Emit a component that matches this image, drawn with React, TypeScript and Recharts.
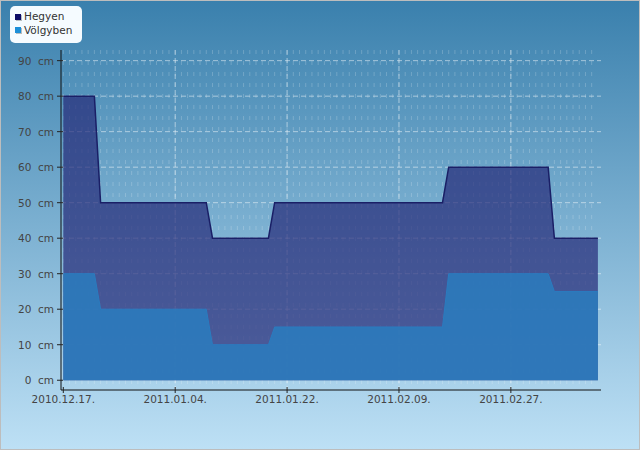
import {
  AreaChart,
  Area,
  XAxis,
  YAxis,
  CartesianGrid,
} from "recharts";

// change points of the snow depth series (cm)
const dates = [
  "2010-12-17",
  "2010-12-22",
  "2010-12-23",
  "2011-01-09",
  "2011-01-10",
  "2011-01-19",
  "2011-01-20",
  "2011-02-16",
  "2011-02-17",
  "2011-03-05",
  "2011-03-06",
  "2011-03-13",
];
const hegyen = [80, 80, 50, 50, 40, 40, 50, 50, 60, 60, 40, 40];
const volgyben = [30, 30, 20, 20, 10, 10, 15, 15, 30, 30, 25, 25];

const xTickLabels = [
  "2010.12.17.",
  "2011.01.04.",
  "2011.01.22.",
  "2011.02.09.",
  "2011.02.27.",
];
const yTicks = [0, 10, 20, 30, 40, 50, 60, 70, 80, 90];

const DAY = 86400000;
const start = Date.parse(dates[0]);
const toDay = (d: string) => Math.round((Date.parse(d) - start) / DAY);
const xTicks = xTickLabels.map((l) =>
  toDay(l.slice(0, 10).replace(/\./g, "-"))
);

const data = dates.map((d, i) => ({
  day: toDay(d),
  hegyen: hegyen[i],
  volgyben: volgyben[i],
}));

const X_DOMAIN: [number, number] = [-0.37, 86.5];
const Y_DOMAIN: [number, number] = [-2.75, 93];
const FONT = "'DejaVu Sans', Verdana, sans-serif";
const minorDays = Array.from({ length: 86 }, (_, i) => i);

const xPix = (d: number, offset: any) =>
  offset.left + ((d - X_DOMAIN[0]) / (X_DOMAIN[1] - X_DOMAIN[0])) * offset.width;
const yPix = (v: number, offset: any) =>
  offset.top + ((Y_DOMAIN[1] - v) / (Y_DOMAIN[1] - Y_DOMAIN[0])) * offset.height;

function YTick({ x, y, payload }: any) {
  return (
    <g>
      <line x1={x - 4} x2={x + 2} y1={y} y2={y} stroke="#222" strokeWidth={1} />
      <text
        x={x - 7}
        y={y}
        dy={4}
        textAnchor="end"
        fontSize={10.5}
        fontFamily={FONT}
        fill="#444"
      >
        {payload.value + "\u00a0\u00a0cm"}
      </text>
    </g>
  );
}

function XTick({ x, y, payload }: any) {
  const i = xTicks.indexOf(payload.value);
  return (
    <g>
      <line x1={x} x2={x} y1={y - 3} y2={y + 3} stroke="#222" strokeWidth={1} />
      <text
        x={x}
        y={y}
        dy={13}
        textAnchor="middle"
        fontSize={10.5}
        fontFamily={FONT}
        fill="#444"
      >
        {xTickLabels[i]}
      </text>
    </g>
  );
}

function LegendBox() {
  const items = [
    { name: "Hegyen", color: "#0c0c66" },
    { name: "Völgyben", color: "#1c8fd8" },
  ];
  return (
    <div
      style={{
        position: "absolute",
        left: 9,
        top: 5,
        background: "#f5fbff",
        borderRadius: 5,
        width: 72,
        height: 37,
        padding: "4px 0 0 5px",
        boxSizing: "border-box",
        fontFamily: FONT,
        fontSize: 10.5,
        color: "#333",
        lineHeight: "13.5px",
      }}
    >
      {items.map((it) => (
        <div key={it.name} style={{ display: "flex", alignItems: "center" }}>
          <span
            style={{
              width: 6,
              height: 6,
              background: it.color,
              marginRight: 3,
              boxShadow: "1px 1px 0 rgba(0,0,0,0.25)",
            }}
          />
          {it.name}
        </div>
      ))}
    </div>
  );
}

export default function App() {
  return (
    <div
      style={{
        position: "absolute",
        left: 0,
        top: 0,
        width: 640,
        height: 450,
        boxSizing: "border-box",
        border: "1px solid #bdbdbd",
        background: "linear-gradient(to bottom, #3a80ad, #bde0f5)",
      }}
    >
      <AreaChart
        width={638}
        height={448}
        data={data}
        margin={{ top: 49, right: 38, left: 0, bottom: 29 }}
        style={{ position: "absolute", left: 0, top: 0 }}
      >
        <CartesianGrid
          horizontal={false}
          stroke="rgba(255,255,255,0.2)"
          strokeDasharray="4 7"
          verticalCoordinatesGenerator={({ offset }: any) =>
            minorDays.map((d) => xPix(d, offset))
          }
        />
        <CartesianGrid
          stroke="rgba(255,255,255,0.5)"
          strokeDasharray="5 3"
          verticalCoordinatesGenerator={({ offset }: any) =>
            xTicks.slice(1).map((d) => xPix(d, offset))
          }
          horizontalCoordinatesGenerator={({ offset }: any) =>
            yTicks.slice(1).map((v) => yPix(v, offset))
          }
        />
        <XAxis
          dataKey="day"
          type="number"
          domain={X_DOMAIN}
          ticks={xTicks}
          allowDataOverflow
          axisLine={{ stroke: "#111" }}
          tickLine={false}
          tickSize={0}
          tickMargin={0}
          height={30}
          tick={<XTick />}
        />
        <YAxis
          type="number"
          domain={Y_DOMAIN}
          ticks={yTicks}
          allowDataOverflow
          axisLine={{ stroke: "#111" }}
          tickLine={false}
          tickSize={0}
          tickMargin={0}
          width={60}
          tick={<YTick />}
        />
        <Area
          type="linear"
          dataKey="hegyen"
          name="Hegyen"
          baseValue={0}
          stroke="#1a1f66"
          strokeWidth={1.5}
          fill="#252977"
          fillOpacity={0.7}
          isAnimationActive={false}
        />
        <Area
          type="linear"
          dataKey="volgyben"
          name="Völgyben"
          baseValue={0}
          stroke="#2a7cc0"
          strokeWidth={1}
          fill="#2a7dbe"
          fillOpacity={0.85}
          isAnimationActive={false}
        />
      </AreaChart>
      <LegendBox />
    </div>
  );
}
